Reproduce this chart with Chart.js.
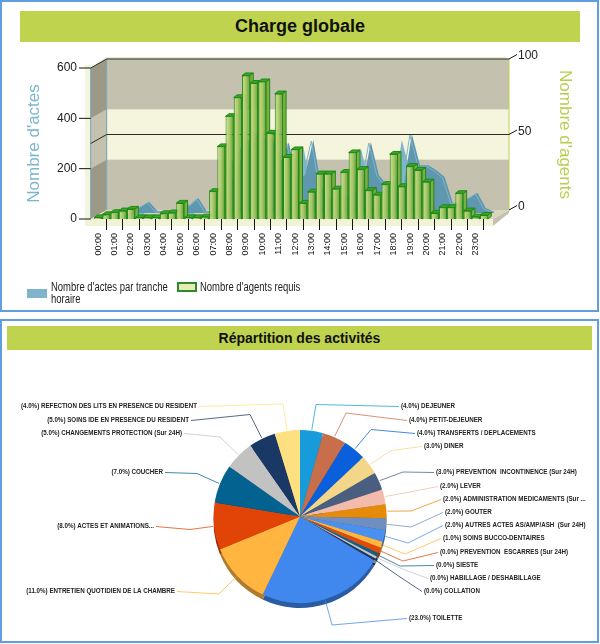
<!DOCTYPE html>
<html lang="fr">
<head>
<meta charset="utf-8">
<title>Charge globale</title>
<script src="https://cdn.jsdelivr.net/npm/chart.js@4"></script>
<style>
    html, body { margin: 0; padding: 0; background: #fff; }
    body { position: relative; width: 600px; height: 644px; overflow: hidden; font-family: "Liberation Sans", Arial, sans-serif; }
    .panel { position: absolute; left: 0; width: 595px; border: 2px solid #5F9FE0; box-sizing: content-box; }
    #panelTop { top: 0; height: 308px; }
    #panelBottom { top: 319px; height: 320px; }
    .bar-title { position: absolute; background: #BFD34F; color: #111; font-weight: bold; text-align: center; }
    #titleTop { left: 20px; top: 11px; width: 560px; height: 31px; line-height: 31px; font-size: 18px; }
    #titleBottom { left: 7px; top: 326px; width: 585px; height: 24px; line-height: 24px; font-size: 14px; }
    canvas { position: absolute; }
    #chargeChart { left: 0; top: 0; }
    #activitesChart { left: 0; top: 395px; }
    .legend-box { position: absolute; width: 20px; height: 9px; box-sizing: border-box; }
    .legend-text { position: absolute; font-size: 12px; line-height: 12px; color: #222; white-space: nowrap; transform: scaleX(0.79); transform-origin: left top; }
</style>
</head>
<body>
<div class="panel" id="panelTop"></div>
<div class="panel" id="panelBottom"></div>
<div class="bar-title" id="titleTop">Charge globale</div>
<div class="bar-title" id="titleBottom">Répartition des activités</div>
<canvas id="chargeChart" width="600" height="309"></canvas>
<canvas id="activitesChart" width="600" height="243"></canvas>
<div class="legend-box" style="left:27px;top:289px;background:#7FB5CC"></div>
<div class="legend-text" style="left:51px;top:281px">Nombre d'actes par tranche<br>horaire</div>
<div class="legend-box" style="left:177px;top:282px;background:#E8EBB5;border:2px solid #2E8B2E;height:10px"></div>
<div class="legend-text" style="left:200px;top:281px">Nombre d'agents requis</div>

<script>
// --- DATA ---
const halfHours = [
    '00:00', '00:30', '01:00', '01:30', '02:00', '02:30', '03:00', '03:30',
    '04:00', '04:30', '05:00', '05:30', '06:00', '06:30', '07:00', '07:30',
    '08:00', '08:30', '09:00', '09:30', '10:00', '10:30', '11:00', '11:30',
    '12:00', '12:30', '13:00', '13:30', '14:00', '14:30', '15:00', '15:30',
    '16:00', '16:30', '17:00', '17:30', '18:00', '18:30', '19:00', '19:30',
    '20:00', '20:30', '21:00', '21:30', '22:00', '22:30', '23:00', '23:30'
];
const nombreActes = [
    0, 5, 15, 20, 25, 45, 8, 8, 8, 25, 30, 60, 8, 8, 30, 120,
    200, 260, 320, 300, 300, 200, 280, 140, 150, 290, 100, 60, 60, 70, 80, 100,
    282, 150, 110, 80, 100, 314, 190, 190, 170, 143, 40, 45, 60, 80, 20, 5
];
const nombreAgents = [
    1, 3, 4.4, 5.5, 6.6, 1, 1, 1, 3.7, 4.2, 10.6, 1, 1, 1.5, 18.3, 48,
    68, 80.5, 95, 90, 91, 57, 83, 41, 46, 10.6, 18, 30, 30, 20, 31, 44,
    33, 19, 16, 23, 43, 21.6, 35, 32.5, 24.7, 4, 7.7, 7.7, 17, 5.5, 1.5, 2.6
];
const activites = [
    '(4.0%) DEJEUNER', '(4.0%) PETIT-DEJEUNER', '(4.0%) TRANSFERTS / DEPLACEMENTS', '(3.0%) DINER',
    '(3.0%) PREVENTION  INCONTINENCE (Sur 24H)', '(2.0%) LEVER', '(2.0%) ADMINISTRATION MEDICAMENTS (Sur ...',
    '(2.0%) GOUTER', '(2.0%) AUTRES ACTES AS/AMP/ASH  (Sur 24H)', '(1.0%) SOINS BUCCO-DENTAIRES',
    '(0.0%) PREVENTION  ESCARRES (Sur 24H)', '(0.0%) SIESTE', '(0.0%) HABILLAGE / DESHABILLAGE', '(0.0%) COLLATION',
    '(23.0%) TOILETTE', '(11.0%) ENTRETIEN QUOTIDIEN DE LA CHAMBRE', '(8.0%) ACTES ET ANIMATIONS...',
    '(7.0%) COUCHER', '(5.0%) CHANGEMENTS PROTECTION (Sur 24H)', '(5.0%) SOINS IDE EN PRESENCE DU RESIDENT',
    '(4.0%) REFECTION DES LITS EN PRESENCE DU RESIDENT'
];
const partsActivites = [4.3, 4.4, 4.3, 3.6, 3.3, 2.8, 2.6, 2.2, 2.2, 1.15, 1.1, 0.64, 0.47, 0.47, 23.5, 11.7, 8.75, 7.2, 5.5, 5, 4.7];
const couleursActivites = [
    '#179BDB', '#C96E4A', '#0A5FDC', '#F3D68A', '#4A5F80', '#F3BBAC', '#E58A09',
    '#6F8FC0', '#4A90F0', '#FFB53F', '#E24A08', '#0A628E', '#C4C4C4', '#193866',
    '#4088EE', '#FFB540', '#E24408', '#036290', '#C2C2C2', '#193866', '#FFE080'
];

// --- LAYOUT OF THE PIE LABELS (page pixels: label x, label y, bend x, bend y) ---
const labelPlaces = [
    [401, 406, 316, 404.5], [409, 420, 346, 413], [417, 433, 371, 429.5], [424, 446, 391, 450.5],
    [436, 472, 403, 472], [440, 486, 410, 492], [443, 499, 411, 511], [445, 512, 411, 527],
    [445, 525, 408, 543], [443, 538, 405, 554], [440, 552, 403, 561], [436, 565, 400, 566],
    [430, 578, 405, 570], [424, 591, 400, 577], [409, 618, 332, 625], [175, 591, 219, 594],
    [154, 526, 190, 529.5], [163, 472, 197, 473.5], [182, 433, 220, 437], [189, 420, 250, 414.5],
    [197, 406, 283, 404]
];
const PIE_CANVAS_TOP = 395;

// depth of the fake 3D box around the bar chart
const DEPTH_X = 16;
const DEPTH_Y = -9;
const WALL_LEFT = 90.7;
const WALL_RIGHT = 493;

function polygon(ctx, points, fill, stroke) {
    ctx.beginPath();
    points.forEach((p, i) => i ? ctx.lineTo(p[0], p[1]) : ctx.moveTo(p[0], p[1]));
    ctx.closePath();
    ctx.fillStyle = fill;
    ctx.fill();
    if (stroke) {
        ctx.strokeStyle = stroke;
        ctx.lineWidth = 1;
        ctx.stroke();
    }
}

function line(ctx, x1, y1, x2, y2, color) {
    ctx.beginPath();
    ctx.moveTo(x1, y1);
    ctx.lineTo(x2, y2);
    ctx.strokeStyle = color;
    ctx.lineWidth = 1;
    ctx.stroke();
}

// Walls, floor and axis ticks, all placed from the two y scales
const boxPlugin = {
    id: 'box3d',
    // beforeDraw so the x axis tick marks stay on top of the floor strip
    beforeDraw(chart) {
        const ctx = chart.ctx;
        const y = chart.scales.y;
        const y1 = chart.scales.y1;
        const bottom = y.getPixelForValue(0);
        const top = y.getPixelForValue(600);
        const y200 = y.getPixelForValue(200);
        const y400 = y.getPixelForValue(400);
        const backL = WALL_LEFT + DEPTH_X;
        const backR = WALL_RIGHT + DEPTH_X;

        // pale sheet behind the box
        ctx.fillStyle = '#F5F5DF';
        ctx.fillRect(85, top - 3, 8, bottom - top + 10);
        polygon(ctx, [[WALL_LEFT, top], [backL, top + DEPTH_Y], [backR, top + DEPTH_Y], [backR - 4, top + DEPTH_Y - 2], [backL - 1, top + DEPTH_Y - 2]], '#E8E7D0');

        // back wall with the light band
        ctx.fillStyle = '#C4C2AE';
        ctx.fillRect(backL, top + DEPTH_Y, backR - backL, bottom - top);
        ctx.fillStyle = '#F5F4DC';
        ctx.fillRect(backL, y400 + DEPTH_Y, backR - backL, y200 - y400);

        // left wall
        polygon(ctx, [[WALL_LEFT, top], [backL, top + DEPTH_Y], [backL, bottom + DEPTH_Y], [WALL_LEFT, bottom]], '#9C9987');
        polygon(ctx, [[WALL_LEFT, y400], [backL, y400 + DEPTH_Y], [backL, y200 + DEPTH_Y], [WALL_LEFT, y200]], '#C4C2AE');
        line(ctx, WALL_LEFT, top, WALL_LEFT, bottom, '#6FA8C0');
        line(ctx, backL, top + DEPTH_Y, backL, bottom + DEPTH_Y, '#6FA8C0');

        // floor
        polygon(ctx, [[WALL_LEFT, bottom], [backL, bottom + DEPTH_Y], [backR, bottom + DEPTH_Y], [WALL_RIGHT, bottom]], '#D8D7BC');
        ctx.fillStyle = '#F2F2D6';
        ctx.fillRect(85, bottom, WALL_RIGHT - 85, 7);
        polygon(ctx, [[WALL_RIGHT, bottom], [backR, bottom + DEPTH_Y], [backR, bottom + DEPTH_Y + 3], [WALL_RIGHT, bottom + 7]], '#C4C2AE');
        line(ctx, backR, top + DEPTH_Y, backR, bottom + DEPTH_Y, '#BFD34F');

        // horizontal lines of the right axis on back and left walls
        [50, 100].forEach(v => {
            const py = y1.getPixelForValue(v);
            line(ctx, backL, py + DEPTH_Y, backR, py + DEPTH_Y, '#2A2A20');
            line(ctx, WALL_LEFT, py, backL, py + DEPTH_Y, '#2A2A20');
        });

        // tick marks of the two y axes
        [0, 200, 400, 600].forEach(v => {
            const py = y.getPixelForValue(v);
            line(ctx, 79, py, WALL_LEFT, py, '#111');
        });
        [0, 50, 100].forEach(v => {
            const py = y1.getPixelForValue(v) + DEPTH_Y;
            line(ctx, backR, py, backR + 8, py - 4.5, '#111');
        });
    },
    beforeDatasetDraw(chart, args) {
        const ctx = chart.ctx;
        const meta = args.meta;
        if (meta.type === 'line') {
            // the area sits half way in the depth of the box, with a darker ridge behind it
            const base = chart.scales.y.getPixelForValue(0);
            const points = meta.data.map(p => [p.x + 10, p.y - 6]);
            points.unshift([meta.data[0].x + 10, base - 6]);
            points.push([meta.data[meta.data.length - 1].x + 10, base - 6]);
            polygon(ctx, points, '#5F97AF');
            ctx.save();
            ctx.translate(8, -5);
        } else {
            // side and top face of every bar, the library draws the front
            meta.data.forEach(bar => {
                const left = bar.x - bar.width / 2;
                const right = bar.x + bar.width / 2;
                const d = 3.5;
                const rise = 2.6;
                polygon(ctx, [[right, bar.y], [right + d, bar.y - rise], [right + d, bar.base - rise], [right, bar.base]], '#7FAE47', '#1E8A14');
                polygon(ctx, [[left, bar.y], [left + d, bar.y - rise], [right + d, bar.y - rise], [right, bar.y]], '#3FA52A', '#1E8A14');
            });
        }
    },
    afterDatasetDraw(chart, args) {
        if (args.meta.type === 'line') {
            chart.ctx.restore();
        }
    },
    afterDraw(chart) {
        // right axis title, it is centred on the back wall and not on the front scale
        const ctx = chart.ctx;
        const y1 = chart.scales.y1;
        ctx.save();
        ctx.translate(565, (y1.top + y1.bottom) / 2 + DEPTH_Y);
        ctx.rotate(Math.PI / 2);
        ctx.font = '17px "Liberation Sans", Arial, sans-serif';
        ctx.fillStyle = '#B9CE50';
        ctx.textAlign = 'center';
        ctx.textBaseline = 'middle';
        ctx.fillText("Nombre d'agents", 0, 0);
        ctx.restore();
    }
};

function barGradient(context) {
    const { chart, dataIndex } = context;
    const xScale = chart.scales.x;
    if (dataIndex === undefined || !xScale) {
        return '#A0C060';
    }
    const x = xScale.getPixelForValue(dataIndex);
    // the scale has no size yet on the very first pass
    if (!Number.isFinite(x)) {
        return '#A0C060';
    }
    const gradient = chart.ctx.createLinearGradient(x - 4, 0, x + 4, 0);
    gradient.addColorStop(0, 'rgba(214,226,150,0.95)');
    gradient.addColorStop(0.5, 'rgba(170,202,104,0.95)');
    gradient.addColorStop(1, 'rgba(92,156,44,0.95)');
    return gradient;
}

function renderChargeChart() {
    const ctx = document.getElementById('chargeChart').getContext('2d');
    new Chart(ctx, {
        data: {
            labels: halfHours,
            datasets: [
                {
                    type: 'line',
                    label: 'Nombre d\'actes par tranche horaire',
                    data: nombreActes,
                    yAxisID: 'y',
                    fill: 'origin',
                    backgroundColor: '#7FB5CC',
                    borderColor: '#7FB5CC',
                    borderWidth: 1,
                    pointRadius: 0,
                    tension: 0,
                    clip: false,
                    order: 2
                },
                {
                    type: 'bar',
                    label: 'Nombre d\'agents requis',
                    data: nombreAgents,
                    yAxisID: 'y1',
                    backgroundColor: barGradient,
                    borderColor: '#1E8A14',
                    borderWidth: 1,
                    barPercentage: 1,
                    categoryPercentage: 0.95,
                    clip: false,
                    order: 1
                }
            ]
        },
        options: {
            responsive: false,
            animation: false,
            layout: { padding: { top: 68, bottom: 31 } },
            scales: {
                x: {
                    grid: { drawOnChartArea: false, tickLength: 11, tickColor: '#111', tickWidth: 1 },
                    border: { display: false },
                    ticks: {
                        autoSkip: false,
                        minRotation: 90,
                        maxRotation: 90,
                        padding: 3,
                        color: '#111',
                        font: { family: '"Liberation Sans"', size: 9 },
                        callback(value, index) {
                            return index % 2 ? null : halfHours[index];
                        }
                    },
                    afterFit(scale) { scale.height = 59; }
                },
                y: {
                    position: 'left',
                    min: 0,
                    max: 600,
                    grid: { display: false, drawTicks: false },
                    border: { display: false },
                    ticks: {
                        stepSize: 200,
                        padding: 17,
                        color: '#222',
                        font: { family: '"Liberation Sans"', size: 12 }
                    },
                    title: {
                        display: true,
                        text: 'Nombre d\'actes',
                        color: '#7AB6CD',
                        padding: { top: 24, bottom: 0 },
                        font: { family: '"Liberation Sans"', size: 17 }
                    },
                    afterFit(scale) { scale.width = 94; }
                },
                y1: {
                    position: 'right',
                    min: 0,
                    max: 100,
                    grid: { display: false, drawTicks: false },
                    border: { display: false },
                    ticks: {
                        stepSize: 50,
                        padding: 30,
                        labelOffset: -12,
                        color: '#222',
                        font: { family: '"Liberation Sans"', size: 12 }
                    },
                    afterFit(scale) { scale.width = 112; }
                }
            },
            plugins: {
                tooltip: { enabled: false },
                legend: { display: false }
            }
        },
        plugins: [boxPlugin]
    });
}

// Pie rim and leader lines, read from the arc elements of the pie
const piePlugin = {
    id: 'pie3d',
    beforeDatasetsDraw(chart) {
        const ctx = chart.ctx;
        ctx.save();
        ctx.filter = 'brightness(0.68)';
        chart.getDatasetMeta(0).data.forEach((arc, i) => {
            ctx.beginPath();
            ctx.moveTo(arc.x, arc.y + 5);
            ctx.arc(arc.x, arc.y + 5, arc.outerRadius, arc.startAngle, arc.endAngle);
            ctx.closePath();
            ctx.fillStyle = couleursActivites[i];
            ctx.fill();
        });
        ctx.restore();
    },
    afterDatasetsDraw(chart) {
        const ctx = chart.ctx;
        ctx.save();
        ctx.font = 'bold 7.6px "Liberation Sans", sans-serif';
        ctx.textBaseline = 'middle';
        chart.getDatasetMeta(0).data.forEach((arc, i) => {
            const [lx, ly, bx, by] = labelPlaces[i];
            const top = ly - PIE_CANVAS_TOP;
            const mid = (arc.startAngle + arc.endAngle) / 2;
            const onLeft = lx < arc.x;
            ctx.beginPath();
            ctx.moveTo(lx + (onLeft ? 2 : -2), top + 0.5);
            ctx.lineTo(bx, by - PIE_CANVAS_TOP);
            ctx.lineTo(arc.x + Math.cos(mid) * (arc.outerRadius + 1), arc.y + Math.sin(mid) * (arc.outerRadius + 1));
            ctx.strokeStyle = couleursActivites[i];
            ctx.lineWidth = 1;
            ctx.globalAlpha = 0.75;
            ctx.stroke();
            ctx.globalAlpha = 1;
            ctx.fillStyle = '#222';
            ctx.textAlign = onLeft ? 'right' : 'left';
            // the labels of the original are squeezed horizontally
            ctx.save();
            ctx.translate(lx, top);
            ctx.scale(0.82, 1);
            ctx.fillText(activites[i], 0, 0);
            ctx.restore();
        });
        ctx.restore();
    }
};

function renderActivitesChart() {
    const ctx = document.getElementById('activitesChart').getContext('2d');
    new Chart(ctx, {
        type: 'pie',
        data: {
            labels: activites,
            datasets: [{
                data: partsActivites,
                backgroundColor: couleursActivites,
                borderWidth: 0
            }]
        },
        options: {
            responsive: false,
            animation: false,
            radius: 86.5,
            plugins: {
                legend: { display: false },
                tooltip: { enabled: false }
            }
        },
        plugins: [piePlugin]
    });
}

document.addEventListener('DOMContentLoaded', () => {
    renderChargeChart();
    renderActivitesChart();
});
</script>
</body>
</html>
